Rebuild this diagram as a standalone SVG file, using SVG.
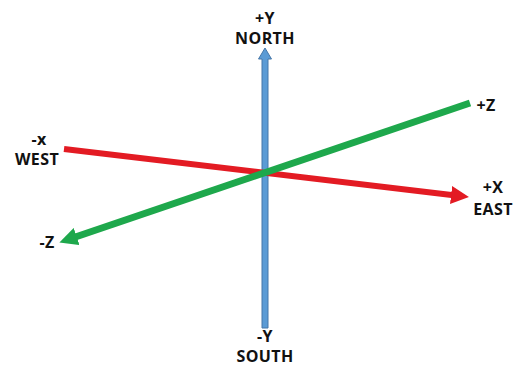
<svg xmlns="http://www.w3.org/2000/svg" width="515" height="369" viewBox="0 0 515 369">
<style>
.lbl{font-family:"Open Sans","Liberation Sans",sans-serif;font-weight:bold;font-size:16px;letter-spacing:0.4px;fill:#111;text-anchor:middle}
.red{stroke:#e31b23;stroke-width:6;fill:none}
.green{stroke:#1ea84c;stroke-width:7;fill:none}
</style>
<defs>
<marker id="ahRed" viewBox="0 0 10 10" refX="5" refY="5" markerWidth="3" markerHeight="3" orient="auto" markerUnits="strokeWidth">
<path d="M0,0 L10,5 L0,10 Z" fill="#e31b23"/>
</marker>
<marker id="ahGreen" viewBox="0 0 10 10" refX="5" refY="5" markerWidth="2.6" markerHeight="2.6" orient="auto" markerUnits="strokeWidth">
<path d="M0,0 L10,5 L0,10 Z" fill="#1ea84c"/>
</marker>
</defs>
<rect width="515" height="369" fill="#fff"/>
<g id="connectors">
<path id="y-axis" d="M262,328 L262,59 L258.5,59 L265,48 L271.5,59 L268,59 L268,328 Z" fill="#5b9bd5" stroke="#4677a8" stroke-width="1"/>
<line id="x-axis" class="red" x1="64" y1="149" x2="460" y2="196" marker-end="url(#ahRed)"/>
<line id="z-axis" class="green" x1="470" y1="103" x2="68" y2="239.5" marker-end="url(#ahGreen)"/>
</g>
<g id="north"><text class="lbl" x="265" y="24">+Y</text><text class="lbl" x="265" y="44">NORTH</text></g>
<g id="south"><text class="lbl" x="265" y="342">-Y</text><text class="lbl" x="265" y="362">SOUTH</text></g>
<g id="west"><text class="lbl" x="39" y="145">-x</text><text class="lbl" x="37" y="165">WEST</text></g>
<g id="east"><text class="lbl" x="493" y="193">+X</text><text class="lbl" x="493" y="215">EAST</text></g>
<g id="plus-z"><text class="lbl" x="486" y="111">+Z</text></g>
<g id="minus-z"><text class="lbl" x="47" y="248">-Z</text></g>
</svg>
